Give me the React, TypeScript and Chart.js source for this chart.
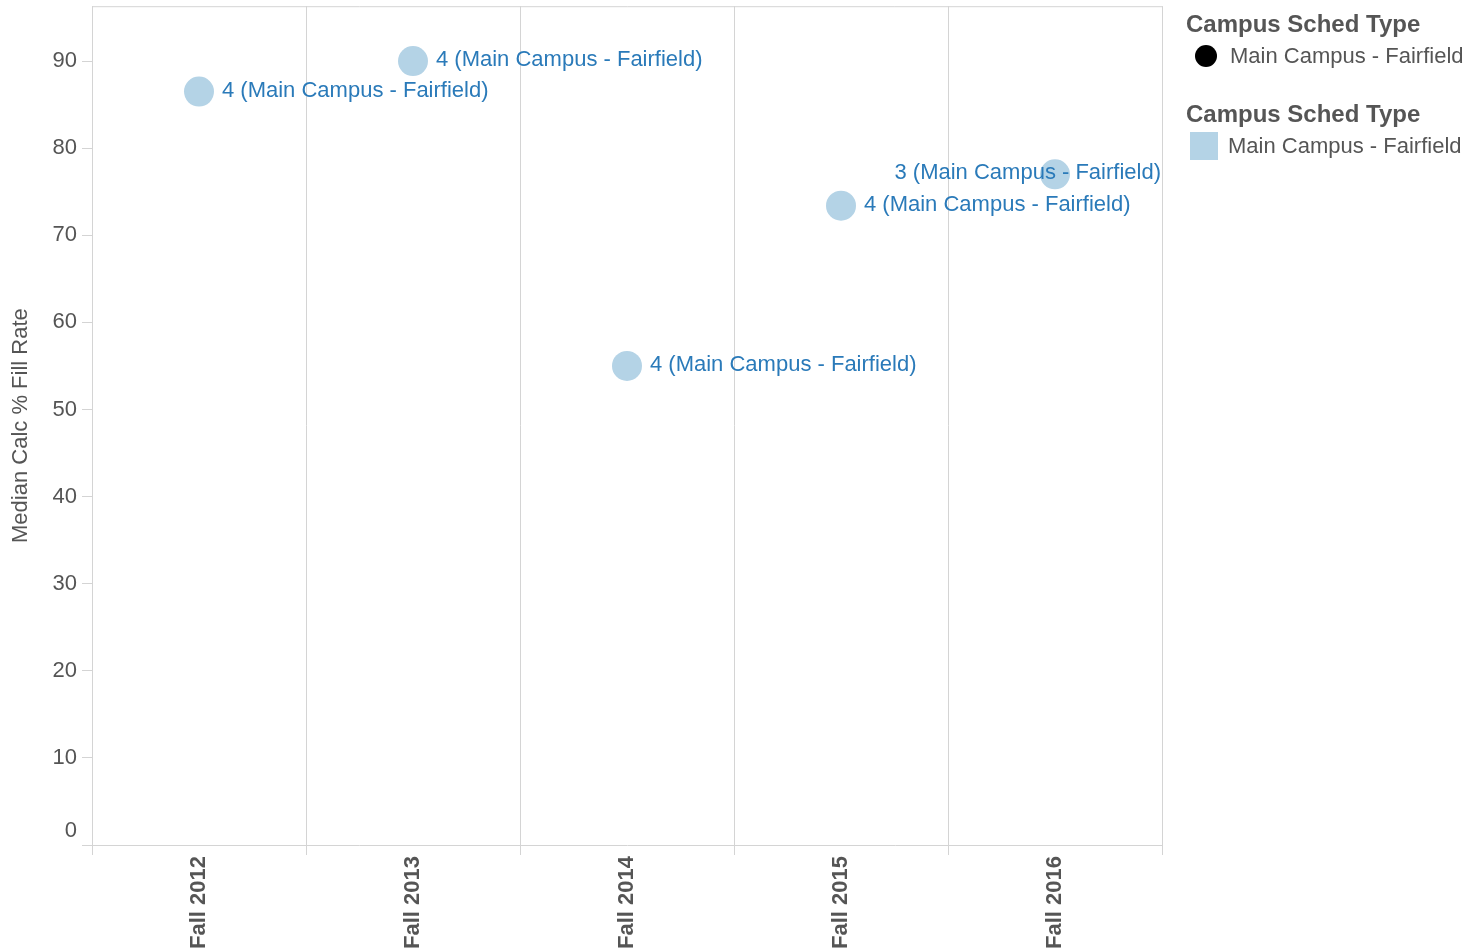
import React, { useEffect, useRef } from "react";
import { Chart, registerables } from "chart.js";

Chart.register(...registerables);

const categories = ["Fall 2012", "Fall 2013", "Fall 2014", "Fall 2015", "Fall 2016"];
const fillRate = [86.5, 90.0, 55.0, 73.4, 77.0];
const pointLabels = [
  "4 (Main Campus - Fairfield)",
  "4 (Main Campus - Fairfield)",
  "4 (Main Campus - Fairfield)",
  "4 (Main Campus - Fairfield)",
  "3 (Main Campus - Fairfield)",
];
const yTicks = [0, 10, 20, 30, 40, 50, 60, 70, 80, 90];
const legendTitle = "Campus Sched Type";
const legendItem = "Main Campus - Fairfield";

const FONT = "Arial, 'Liberation Sans', sans-serif";
const AXIS_GRAY = "#d4d4d4";
const TEXT_GRAY = "#555555";
const LABEL_BLUE = "#2a7ab9";
const POINT_BLUE = "#b4d3e6";

const framePlugin = {
  id: "frame",
  afterDraw(chart: any) {
    const { ctx, chartArea } = chart;
    ctx.save();
    ctx.strokeStyle = AXIS_GRAY;
    ctx.lineWidth = 1;
    ctx.beginPath();
    ctx.moveTo(chartArea.left, chartArea.top + 0.5);
    ctx.lineTo(chartArea.right + 0.5, chartArea.top + 0.5);
    ctx.lineTo(chartArea.right + 0.5, chartArea.bottom);
    ctx.stroke();
    const y = chart.scales.y.getPixelForValue(0);
    ctx.fillStyle = TEXT_GRAY;
    ctx.font = `22px ${FONT}`;
    ctx.textAlign = "right";
    ctx.textBaseline = "middle";
    ctx.fillText("0", chartArea.left - 15, y - 14);
    ctx.restore();
  },
};

const labelPlugin = {
  id: "pointLabels",
  afterDatasetsDraw(chart: any) {
    const { ctx, chartArea } = chart;
    const meta = chart.getDatasetMeta(0);
    ctx.save();
    ctx.font = `22px ${FONT}`;
    ctx.fillStyle = LABEL_BLUE;
    ctx.textBaseline = "middle";
    ctx.textAlign = "left";
    meta.data.forEach((pt: any, i: number) => {
      const text = pointLabels[i];
      const w = ctx.measureText(text).width;
      let x = pt.x + 23;
      if (x + w > chartArea.right - 1) x = chartArea.right - 1 - w;
      ctx.fillText(text, x, pt.y - 1);
    });
    ctx.restore();
  },
};

export default function App() {
  const canvasRef = useRef<HTMLCanvasElement | null>(null);

  useEffect(() => {
    document.body.style.margin = "0";
    const canvas = canvasRef.current!;
    const chart = new Chart(canvas, {
      type: "line",
      data: {
        labels: categories,
        datasets: [
          {
            data: fillRate,
            showLine: false,
            pointRadius: 15,
            pointHoverRadius: 15,
            pointBackgroundColor: POINT_BLUE,
            pointBorderColor: POINT_BLUE,
            pointBorderWidth: 0,
          },
        ],
      },
      options: {
        animation: false,
        responsive: false,
        events: [],
        layout: { padding: { top: 6, right: 302, left: 0, bottom: 0 } },
        plugins: { legend: { display: false }, tooltip: { enabled: false } },
        scales: {
          x: {
            type: "category",
            offset: true,
            grid: {
              offset: true,
              color: AXIS_GRAY,
              drawOnChartArea: true,
              tickLength: 10,
              tickColor: AXIS_GRAY,
            },
            border: { color: AXIS_GRAY },
            ticks: {
              color: TEXT_GRAY,
              font: { family: FONT, size: 22, weight: "bold" },
              maxRotation: 90,
              minRotation: 90,
              padding: 1,
            },
            afterFit(scale: any) {
              scale.height = 103;
            },
          },
          y: {
            min: 0,
            max: 96.3,
            afterBuildTicks(scale: any) {
              scale.ticks = yTicks.map((v) => ({ value: v }));
            },
            grid: {
              drawOnChartArea: false,
              tickLength: 10,
              tickColor: AXIS_GRAY,
            },
            border: { color: AXIS_GRAY },
            ticks: {
              color: TEXT_GRAY,
              font: { family: FONT, size: 22 },
              padding: 5,
              callback: (v: any) => (v === 0 ? "" : String(v)),
            },
            title: {
              display: true,
              text: "Median Calc % Fill Rate",
              color: TEXT_GRAY,
              font: { family: FONT, size: 22 },
              padding: { top: 8, bottom: 0 },
            },
            afterFit(scale: any) {
              scale.width = 92;
            },
          },
        },
      },
      plugins: [framePlugin, labelPlugin],
    });
    return () => chart.destroy();
  }, []);

  const titleStyle: React.CSSProperties = {
    position: "absolute",
    left: 1186,
    fontFamily: FONT,
    fontWeight: "bold",
    fontSize: 24,
    color: TEXT_GRAY,
    whiteSpace: "nowrap",
    lineHeight: "28px",
  };
  const itemStyle: React.CSSProperties = {
    position: "absolute",
    fontFamily: FONT,
    fontSize: 22,
    color: TEXT_GRAY,
    whiteSpace: "nowrap",
    lineHeight: "26px",
  };

  return (
    <div style={{ position: "relative", width: 1464, height: 948, background: "#fff", overflow: "hidden" }}>
      <canvas ref={canvasRef} width={1464} height={960} style={{ position: "absolute", left: 0, top: -12 }} />
      <div style={{ ...titleStyle, top: 10 }}>{legendTitle}</div>
      <div
        style={{
          position: "absolute",
          left: 1195,
          top: 45,
          width: 22,
          height: 22,
          borderRadius: "50%",
          background: "#000",
        }}
      />
      <div style={{ ...itemStyle, left: 1230, top: 43 }}>{legendItem}</div>
      <div style={{ ...titleStyle, top: 100 }}>{legendTitle}</div>
      <div
        style={{
          position: "absolute",
          left: 1190,
          top: 132,
          width: 28,
          height: 28,
          background: POINT_BLUE,
        }}
      />
      <div style={{ ...itemStyle, left: 1228, top: 133 }}>{legendItem}</div>
    </div>
  );
}
